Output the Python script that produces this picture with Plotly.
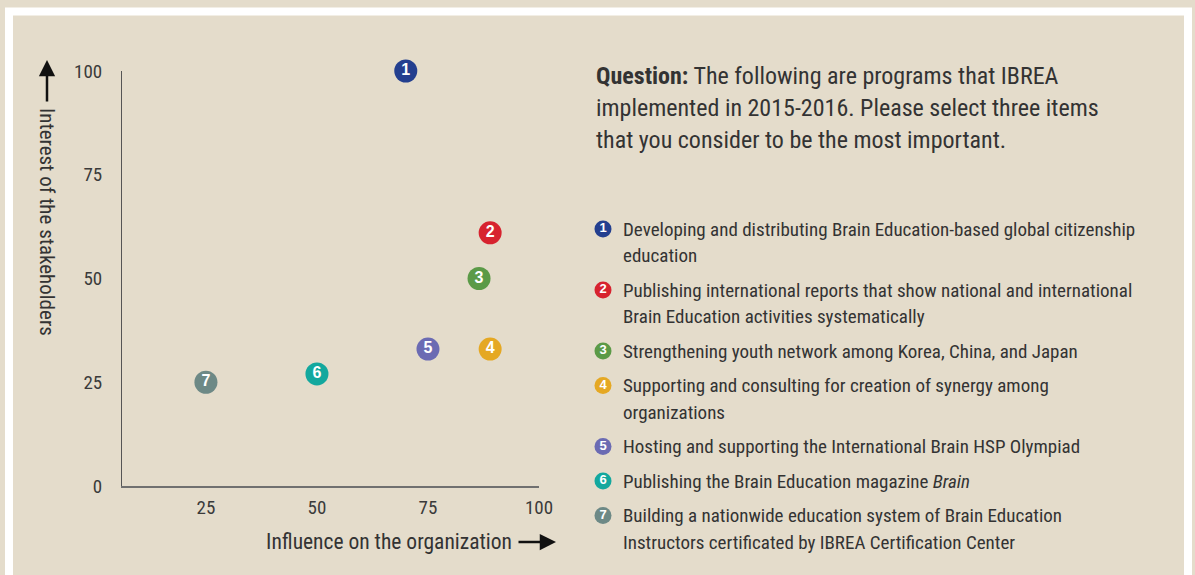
import plotly.graph_objects as go

W, H = 1195, 575
BG = "#e4dccb"
TXT = "#333333"
FONT = "Liberation Sans Narrow, Roboto Condensed, Arial Narrow, Liberation Sans, sans-serif"

# ---- data ----
ids = ["1", "2", "3", "4", "5", "6", "7"]
influence = [70, 89, 86.5, 89, 75, 50, 25]
interest = [100, 61, 50, 33, 33, 27, 25]
colors = ["#233f8f", "#d7232f", "#5b9a47", "#e5a823", "#6b6bb3", "#13a89e", "#6d8986"]
programs = [
    ["Developing and distributing Brain Education-based global citizenship", "education"],
    ["Publishing international reports that show national and international",
     "Brain Education activities systematically"],
    ["Strengthening youth network among Korea, China, and Japan"],
    ["Supporting and consulting for creation of synergy among", "organizations"],
    ["Hosting and supporting the International Brain HSP Olympiad"],
    ["Publishing the Brain Education magazine <i>Brain</i>"],
    ["Building a nationwide education system of Brain Education",
     "Instructors certificated by IBREA Certification Center"],
]
question = [
    "<b>Question:</b> The following are programs that IBREA",
    "implemented in 2015-2016. Please select three items",
    "that you consider to be the most important.",
]
x_ticks = [25, 50, 75, 100]
y_ticks = [0, 25, 50, 75, 100]
x_title = "Influence on the organization"
y_title = "Interest of the stakeholders"

# ---- layout helpers (pixel -> paper) ----
def px(x):
    return x / W

def py(y):
    return 1 - y / H

fig = go.Figure()

fig.add_trace(go.Scatter(
    x=influence, y=interest, mode="markers+text",
    text=[f"<b>{i}</b>" for i in ids], textposition="middle center",
    textfont=dict(family="Liberation Sans, Arial, sans-serif", size=16, color="white"),
    marker=dict(size=23, color=colors, line=dict(width=0)),
    cliponaxis=False, hoverinfo="skip", showlegend=False,
    xaxis="x", yaxis="y",
))

# legend rows (icon positions from row layout)
LINE_H = 26.5
GAP = 8
y0 = 229
icon_y, line_rows = [], []
cur = y0
for lines in programs:
    icon_y.append(cur)
    for k, ln in enumerate(lines):
        line_rows.append((cur + k * LINE_H, ln))
    cur += len(lines) * LINE_H + GAP

fig.add_trace(go.Scatter(
    x=[603] * len(ids), y=icon_y, mode="markers+text",
    text=[f"<b>{i}</b>" for i in ids], textposition="middle center",
    textfont=dict(family="Liberation Sans, Arial, sans-serif", size=13, color="white"),
    marker=dict(size=17, color=colors, line=dict(width=0)),
    cliponaxis=False, hoverinfo="skip", showlegend=False,
    xaxis="x2", yaxis="y2",
))

annotations = []
for yy, ln in line_rows:
    annotations.append(dict(
        x=px(621), y=py(yy), xref="paper", yref="paper", xanchor="left", yanchor="middle",
        text=ln, showarrow=False, font=dict(family=FONT, size=19, color=TXT)))

for k, ln in enumerate(question):
    annotations.append(dict(
        x=px(594), y=py(76 + 32 * k), xref="paper", yref="paper", xanchor="left", yanchor="middle",
        text=ln, showarrow=False, font=dict(family=FONT, size=24, color=TXT)))

# axis titles
annotations.append(dict(
    x=px(47), y=py(106), xref="paper", yref="paper", xanchor="center", yanchor="top",
    text=y_title, textangle=90, showarrow=False, font=dict(family=FONT, size=21, color=TXT)))
annotations.append(dict(
    x=px(514), y=py(541), xref="paper", yref="paper", xanchor="right", yanchor="middle",
    text=x_title, showarrow=False, font=dict(family=FONT, size=21.5, color=TXT)))
# arrows
annotations.append(dict(
    x=px(47), y=py(60), xref="paper", yref="paper", ax=0, ay=43, text="",
    showarrow=True, arrowhead=2, arrowsize=1.3, arrowwidth=2.5, arrowcolor="#111111", standoff=0))
annotations.append(dict(
    x=px(556), y=py(542), xref="paper", yref="paper", ax=-39, ay=0, text="",
    showarrow=True, arrowhead=2, arrowsize=1.3, arrowwidth=2.5, arrowcolor="#111111", standoff=0))

fig.update_layout(
    width=W, height=H,
    margin=dict(l=0, r=0, t=0, b=0, pad=0, autoexpand=False),
    paper_bgcolor=BG, plot_bgcolor="rgba(0,0,0,0)",
    font=dict(family=FONT, color=TXT),
    showlegend=False,
    xaxis=dict(
        domain=[px(122), px(539)], range=[6.1, 100], tickvals=x_ticks,
        showline=True, linecolor="#707070", linewidth=2, showgrid=False, zeroline=False,
        ticks="", tickfont=dict(family=FONT, size=19, color="#3a3a3a"), ticklabelstandoff=3,
        anchor="y", fixedrange=True, automargin=False,
    ),
    yaxis=dict(
        domain=[py(486), py(71)], range=[0, 100], tickvals=y_ticks,
        showline=True, linecolor="#555555", linewidth=1, showgrid=False, zeroline=False,
        ticks="", tickfont=dict(family=FONT, size=19, color="#3a3a3a"), ticklabelstandoff=15,
        anchor="x", fixedrange=True, automargin=False,
    ),
    xaxis2=dict(domain=[0, 1], range=[0, W], visible=False, anchor="y2", fixedrange=True),
    yaxis2=dict(domain=[0, 1], range=[H, 0], visible=False, anchor="x2", fixedrange=True),
    annotations=annotations,
    shapes=[dict(
        type="rect", xref="paper", yref="paper", layer="below",
        x0=px(9), x1=px(1188), y0=py(590), y1=py(11.5),
        line=dict(color="white", width=8), fillcolor="rgba(0,0,0,0)")],
)

fig.write_html(
    "out.html",
    config=dict(displayModeBar=False),
    post_script="document.body.style.margin='0';document.body.style.padding='0';"
                "document.body.style.overflow='hidden';",
)
